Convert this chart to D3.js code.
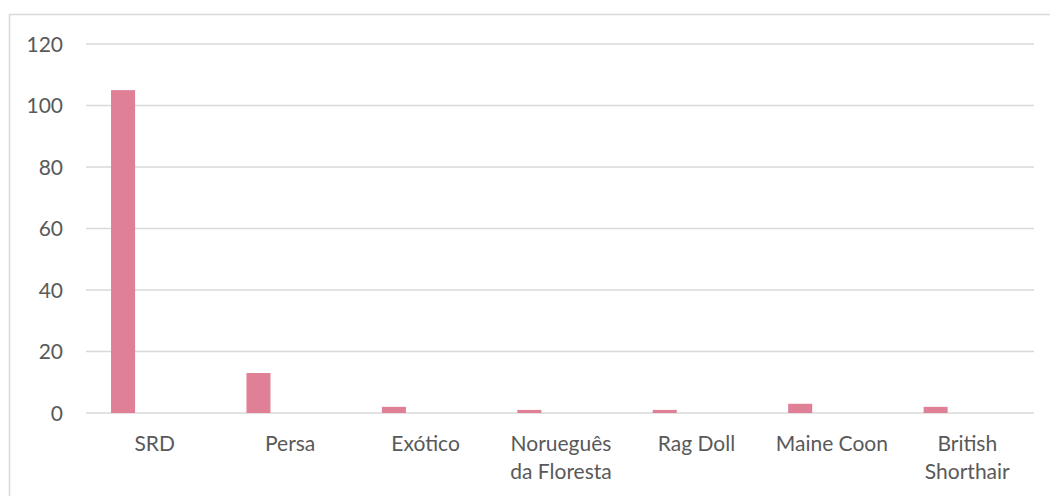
<!DOCTYPE html>
<html><head><meta charset="utf-8">
<script src="https://cdn.jsdelivr.net/npm/d3@7"></script>
<style>body{margin:0;background:#fff}svg{display:block}</style>
</head><body>
<script>
const categories = ["SRD", "Persa", "Exótico", "Norueguês\nda Floresta", "Rag Doll", "Maine Coon", "British\nShorthair"];
const values = [105, 13, 2, 1, 1, 3, 2];
const yTicks = [0, 20, 40, 60, 80, 100, 120];

const W = 1050, H = 496;
const svg = d3.select("body").append("svg").attr("width", W).attr("height", H);
const font = "Lato, 'Open Sans', sans-serif";
const fs = 21;

// outer frame
svg.append("rect").attr("x", 9.5).attr("y", 14.5).attr("width", 1100).attr("height", 600)
  .attr("fill", "none").attr("stroke", "#d9d9d9").attr("stroke-width", 1.5);

const x = d3.scaleBand().domain(categories).range([87, 1035]).paddingInner(0).paddingOuter(0);
const y = d3.scaleLinear().domain([0, 120]).range([413, 44]);

// gridlines
svg.append("g").selectAll("line").data(yTicks).join("line")
  .attr("x1", 86).attr("x2", 1034)
  .attr("y1", d => y(d)).attr("y2", d => y(d))
  .attr("stroke", "#d9d9d9").attr("stroke-width", 1.6);

// y axis labels
const yAxis = d3.axisLeft(y).tickValues(yTicks).tickSize(0).tickPadding(0);
const gy = svg.append("g").attr("transform", "translate(63,0)").call(yAxis);
gy.select(".domain").remove();
gy.selectAll("text").attr("fill", "#595959").attr("font-family", font).attr("font-size", fs).attr("dy", "0.35em");

// bars
const bw = x.bandwidth();
const barOff = bw * 0.1775, barW = bw * 0.1775;
svg.append("g").selectAll("rect").data(categories).join("rect")
  .attr("x", (d) => x(d) + barOff)
  .attr("width", barW)
  .attr("y", (d, i) => y(values[i]))
  .attr("height", (d, i) => y(0) - y(values[i]))
  .attr("fill", "#df8097");

// x labels
const xAxis = d3.axisBottom(x).tickSize(0).tickPadding(0);
const gx = svg.append("g").attr("transform", "translate(0,413)").call(xAxis);
gx.select(".domain").remove();
gx.selectAll("text").each(function(d) {
  const t = d3.select(this);
  t.text(null).attr("fill", "#595959").attr("font-family", font).attr("font-size", fs).attr("y", 0).attr("dy", null);
  d.split("\n").forEach((line, i) => {
    t.append("tspan").attr("x", 0).attr("y", 38 + i * 28).text(line);
  });
});
</script>
</body></html>
